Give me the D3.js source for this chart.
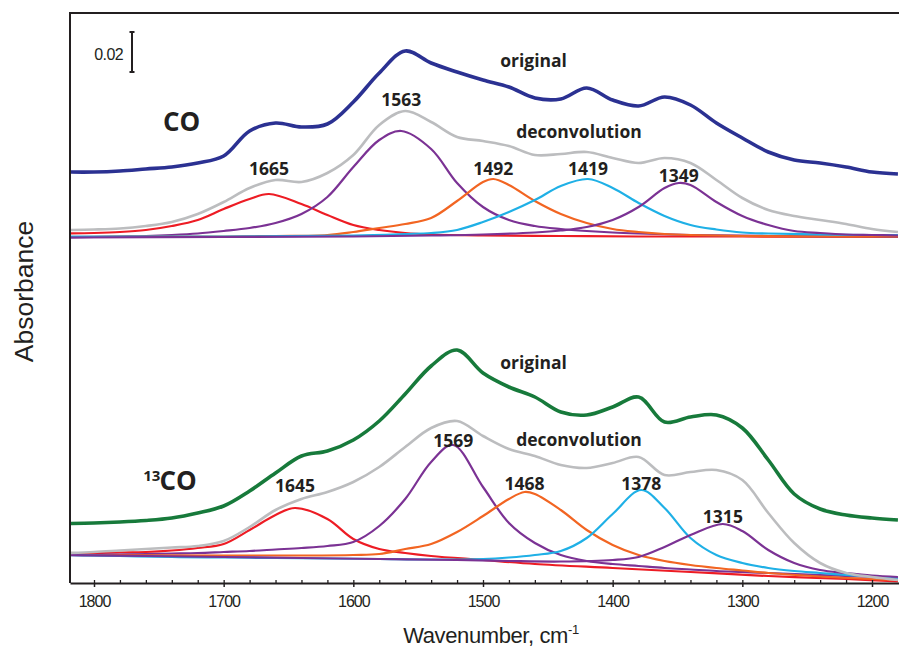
<!DOCTYPE html>
<html>
<head>
<meta charset="utf-8">
<script src="https://cdn.jsdelivr.net/npm/d3@7"></script>
<style>
  html, body { margin: 0; padding: 0; background: #ffffff; }
  svg { display: block; }
</style>
</head>
<body>
<svg id="chart" width="899" height="650"></svg>
<script>
// ---------------------------------------------------------------
// Data: IR spectra of adsorbed CO / 13CO with band deconvolution.
// Absorbance values are in mAU; the two panels are stacked with offsets.
// ---------------------------------------------------------------

// Wavenumber grid (cm-1) of the measured and fitted envelopes
const wavenumbers = [1820,1800,1780,1760,1740,1720,1700,1680,1660,1640,1620,1600,1580,1560,1540,1520,1500,1480,1460,1440,1420,1400,1380,1360,1340,1320,1300,1280,1260,1240,1220,1200,1180];

// CO panel
const coOriginal = [205.5,205.5,206,207,208,210,213.5,226,230,228,229.5,240.5,255,266,260,255.5,251.5,248,242.5,242,247.5,241.5,238.5,243,239,230,222.5,215.5,211.5,210,208,205.5,204.5];
const coDeconvolution = [176.5,176.75,177.25,178.5,180.5,184.5,190.5,197.5,201.5,200.5,205,214,229,236,230.5,223,221,218.5,214,214.5,215.5,212.5,210,212.5,210,201.5,192.5,186.5,183.5,181.5,179.5,177,175.5];

// CO component bands as [wavenumber, mAU]
const coBand1665 = [[1820,174.75],[1800,175],[1780,175.5],[1760,176.5],[1740,178.5],[1720,181.5],[1700,187],[1680,192],[1665,194.5],[1640,189.5],[1620,184],[1600,179],[1580,176.5],[1560,175],[1540,174.25],[1500,173.75],[1440,173.5],[1380,173.25],[1300,173.25],[1180,173]];
const coBand1563 = [[1820,172.75],[1800,173],[1780,173.25],[1760,173.5],[1740,174],[1720,174.75],[1700,176],[1680,177.5],[1660,180],[1640,184.5],[1620,193],[1600,208],[1580,221.5],[1563,226],[1540,217],[1520,200],[1500,188],[1480,181.5],[1460,178.5],[1440,177],[1420,176],[1400,175.25],[1380,174.75],[1340,174],[1280,173.5],[1180,173]];
const coBand1492 = [[1820,173],[1760,173.25],[1700,173.25],[1660,173.5],[1620,174],[1600,175.5],[1580,177.5],[1560,179.5],[1540,182.5],[1520,191],[1500,200.5],[1492,202],[1480,199],[1460,191],[1440,184.5],[1420,180],[1400,177],[1380,175.5],[1360,174.5],[1340,174],[1300,173.5],[1240,173.25],[1180,173.25]];
const coBand1419 = [[1820,173.25],[1700,173.25],[1600,173.75],[1560,174.5],[1540,175],[1520,176.5],[1500,180.5],[1480,185.5],[1460,191.5],[1440,198.5],[1419,202],[1400,197.5],[1380,190],[1360,183.5],[1340,179],[1320,176.75],[1300,175.25],[1280,174.75],[1240,174.25],[1200,174],[1180,174]];
const coBand1349 = [[1820,172.75],[1700,173],[1600,173.25],[1540,173.75],[1500,174.25],[1460,175.25],[1440,176.25],[1420,178],[1400,181.5],[1380,188],[1360,197.5],[1349,200],[1340,199],[1320,190.5],[1300,183.5],[1280,179],[1260,176],[1240,175],[1220,174.25],[1200,174],[1180,173.75]];
const coBandLabels = ["1665","1563","1492","1419","1349"];

// 13CO panel
const co13Original = [29.75,30,30.5,31.25,32.5,35,38.5,46,55,63.5,66,71.5,81,94.5,108.5,116.5,105,98,93,85.5,84,88,93,80.5,83,84,77.5,61.5,44.5,37,34,32.5,31.5];
const co13Deconvolution = [15,15.5,16.25,17,17.75,18.5,21,28,36.5,42,45.5,50.5,58,68,77.5,81,73.5,67,63.5,59,57.5,60,63,54,55.5,56.5,51.5,35,20,10,5,3,1.5];

const co13Band1645 = [[1820,15],[1800,15],[1780,15.25],[1760,15.5],[1740,16.25],[1720,17.5],[1700,19.5],[1680,26.5],[1660,34],[1645,37.5],[1620,32],[1600,22],[1580,17],[1560,15],[1540,13.5],[1500,11.5],[1460,9.5],[1400,7.5],[1340,5.5],[1280,3.5],[1220,2],[1180,0.75]];
const co13Band1523 = [[1820,14],[1800,14],[1780,14.25],[1760,14.5],[1740,14.75],[1720,15],[1700,15.5],[1680,16],[1660,16.75],[1640,17.5],[1620,18.5],[1600,20.5],[1580,28.5],[1560,42],[1540,60.5],[1523,69],[1500,48],[1480,30],[1460,20],[1440,14],[1420,11],[1400,9.5],[1380,8.5],[1360,7.5],[1340,6.75],[1320,6],[1300,5.5],[1280,5],[1240,4],[1200,3],[1180,2.5]];
const co13Band1468 = [[1820,14],[1700,13.75],[1640,13.75],[1600,14],[1580,14.5],[1560,17],[1540,19.5],[1520,25.5],[1500,33.5],[1480,42],[1468,45.5],[1460,44.5],[1440,36.5],[1420,26.5],[1400,19],[1380,14],[1360,11],[1340,9],[1320,7.5],[1300,6.25],[1280,5],[1240,3.25],[1200,2],[1180,1.5]];
const co13Band1378 = [[1820,14],[1780,13.5],[1740,13],[1700,12.75],[1660,12.5],[1620,12.25],[1580,12],[1540,11.75],[1500,12],[1480,12.75],[1460,14],[1440,16],[1420,22.5],[1400,34.5],[1378,46.5],[1360,37.5],[1340,22.5],[1320,14],[1300,10],[1280,7.5],[1260,6],[1240,5],[1220,4],[1200,3.25],[1180,2.5]];
const co13Band1315 = [[1820,14],[1760,13.5],[1700,13],[1640,12.5],[1580,12],[1520,11.5],[1480,11],[1440,10.75],[1400,11.5],[1380,13],[1360,18],[1340,24],[1315,29.5],[1300,26],[1280,16.5],[1260,10],[1240,6.5],[1220,5],[1200,3.75],[1180,3]];
const co13BandLabels = ["1645","1569","1468","1378","1315"];

// Axis ticks (cm-1)
const majorTicks = [1800,1700,1600,1500,1400,1300,1200];
const minorTicks = [1800,1780,1760,1740,1720,1700,1680,1660,1640,1620,1600,1580,1560,1540,1520,1500,1480,1460,1440,1420,1400,1380,1360,1340,1320,1300,1280,1260,1240,1220,1200];

// Scale bar height (absorbance units)
const scaleBarValue = 0.02;

// ---------------------------------------------------------------
// Layout and styles
// ---------------------------------------------------------------
const plot = { left: 70, top: 13, right: 899, bottom: 583 };
const ink = "#231f20";
const bandColors = ["#ed1c24", "#7b3294", "#f26522", "#1fb0e6", "#7b3294"];
const coLabelLift = [19, 25, 4, 4, 1];
const co13LabelLift = [16, -2, 2, 0, 1];

const svg = d3.select("#chart");
svg.append("rect").attr("width", 899).attr("height", 650).attr("fill", "#ffffff");

// x: wavenumber, decreasing to the right
const x = d3.scaleLinear().domain([1800, 1200]).range([94, 872]);
x.domain([x.invert(plot.left), x.invert(plot.right)]).range([plot.left, plot.right]);

// y: absorbance in mAU
const y = d3.scaleLinear().domain([0, 285]).range([plot.bottom, plot.top]);

svg.append("defs").append("clipPath").attr("id", "plotClip")
  .append("rect")
  .attr("x", plot.left + 1).attr("y", plot.top)
  .attr("width", plot.right - plot.left).attr("height", plot.bottom - plot.top);

const line = d3.line()
  .x(d => x(d[0]))
  .y(d => y(d[1]))
  .curve(d3.curveCatmullRom.alpha(0.5));

const curves = svg.append("g").attr("clip-path", "url(#plotClip)");

function drawPanel(bands, deconv, original, originalColor) {
  bands.forEach((band, i) => {
    curves.append("path")
      .datum(band)
      .attr("d", line)
      .attr("fill", "none")
      .attr("stroke", bandColors[i])
      .attr("stroke-width", 2.2)
      .attr("stroke-linejoin", "round");
  });
  curves.append("path")
    .datum(d3.zip(wavenumbers, deconv))
    .attr("d", line)
    .attr("fill", "none")
    .attr("stroke", "#bcbdbf")
    .attr("stroke-width", 2.6);
  curves.append("path")
    .datum(d3.zip(wavenumbers, original))
    .attr("d", line)
    .attr("fill", "none")
    .attr("stroke", originalColor)
    .attr("stroke-width", 3.6)
    .attr("stroke-linejoin", "round");
}

const coBands = [coBand1665, coBand1563, coBand1492, coBand1419, coBand1349];
const co13Bands = [co13Band1645, co13Band1523, co13Band1468, co13Band1378, co13Band1315];

drawPanel(coBands, coDeconvolution, coOriginal, "#2b3192");
drawPanel(co13Bands, co13Deconvolution, co13Original, "#177a3b");

// Band maximum labels
const labelFont = "'Open Sans', 'DejaVu Sans', sans-serif";
function labelBands(bands, labels, lifts) {
  bands.forEach((band, i) => {
    const top = band.reduce((a, b) => (b[1] > a[1] ? b : a));
    svg.append("text")
      .attr("x", x(top[0]))
      .attr("y", y(top[1]) - lifts[i])
      .attr("text-anchor", "middle")
      .attr("font-family", labelFont)
      .attr("font-weight", 700)
      .attr("font-size", 17.5)
      .attr("fill", ink)
      .text(labels[i]);
  });
}
labelBands(coBands, coBandLabels, coLabelLift);
labelBands(co13Bands, co13BandLabels, co13LabelLift);

// Curve annotations
function note(txt, w, v, size, anchor) {
  return svg.append("text")
    .attr("x", x(w)).attr("y", y(v))
    .attr("text-anchor", anchor || "middle")
    .attr("font-family", labelFont)
    .attr("font-weight", 700)
    .attr("font-size", size)
    .attr("fill", ink)
    .text(txt);
}
note("original", 1461, 258, 17.5);
note("deconvolution", 1426, 222.5, 17.5);
note("original", 1461, 107, 17.5);
note("deconvolution", 1426, 68.5, 17.5);
note("CO", 1732.5, 226, 26);

const co13 = svg.append("text")
  .attr("x", x(1762)).attr("y", y(46.5))
  .attr("font-family", labelFont)
  .attr("font-weight", 700)
  .attr("fill", ink);
co13.append("tspan").attr("font-size", 15).attr("dy", -9).text("13");
co13.append("tspan").attr("font-size", 26).attr("dy", 9).attr("dx", -1).text("CO");

// Frame: left and top borders
svg.append("line")
  .attr("x1", plot.left).attr("x2", plot.left)
  .attr("y1", plot.top).attr("y2", plot.bottom)
  .attr("stroke", ink).attr("stroke-width", 2);
svg.append("line")
  .attr("x1", plot.left - 1).attr("x2", plot.right)
  .attr("y1", plot.top).attr("y2", plot.top)
  .attr("stroke", ink).attr("stroke-width", 2);

// Bottom axis: minor ticks inside, major ticks and labels outside
const axisFont = "'Liberation Sans', Arial, sans-serif";
svg.append("g")
  .attr("transform", `translate(0,${plot.bottom})`)
  .call(d3.axisBottom(x).tickValues(minorTicks).tickSize(-3).tickFormat(""))
  .call(g => g.select(".domain").remove())
  .call(g => g.selectAll(".tick line").attr("stroke", ink).attr("stroke-width", 1.3));

const gx = svg.append("g")
  .attr("transform", `translate(0,${plot.bottom})`)
  .call(d3.axisBottom(x).tickValues(majorTicks).tickSizeInner(4).tickSizeOuter(0).tickFormat(d3.format("d")));
gx.select(".domain").attr("stroke", ink).attr("stroke-width", 2);
gx.selectAll(".tick line").attr("stroke", ink).attr("stroke-width", 1.5);
gx.selectAll(".tick text")
  .attr("y", 24).attr("dy", null)
  .attr("font-family", axisFont)
  .attr("font-size", 16)
  .attr("letter-spacing", -1)
  .attr("fill", "#231f20");

// Axis titles
const xTitle = svg.append("text")
  .attr("x", 491).attr("y", 643)
  .attr("text-anchor", "middle")
  .attr("font-family", axisFont)
  .attr("font-size", 22)
  .attr("letter-spacing", -0.4)
  .attr("fill", ink);
xTitle.append("tspan").text("Wavenumber, cm");
xTitle.append("tspan").attr("font-size", 13).attr("dy", -9).text("-1");

svg.append("text")
  .attr("transform", "translate(33,291.5) rotate(-90)")
  .attr("text-anchor", "middle")
  .attr("font-family", axisFont)
  .attr("font-size", 26.5)
  .attr("fill", ink)
  .text("Absorbance");

// Absorbance scale bar
const barTop = 275.5;
const barBottom = barTop - scaleBarValue * 1000;
const bar = svg.append("g").attr("stroke", ink).attr("stroke-width", 2);
bar.append("line").attr("x1", 132).attr("x2", 132).attr("y1", y(barTop)).attr("y2", y(barBottom));
bar.append("line").attr("x1", 129.5).attr("x2", 134.5).attr("y1", y(barTop)).attr("y2", y(barTop));
bar.append("line").attr("x1", 129.5).attr("x2", 134.5).attr("y1", y(barBottom)).attr("y2", y(barBottom));
svg.append("text")
  .attr("x", 123).attr("y", 60)
  .attr("text-anchor", "end")
  .attr("font-family", axisFont)
  .attr("font-size", 16)
  .attr("letter-spacing", -0.6)
  .attr("fill", ink)
  .text(d3.format(".2f")(scaleBarValue));
</script>
</body>
</html>
